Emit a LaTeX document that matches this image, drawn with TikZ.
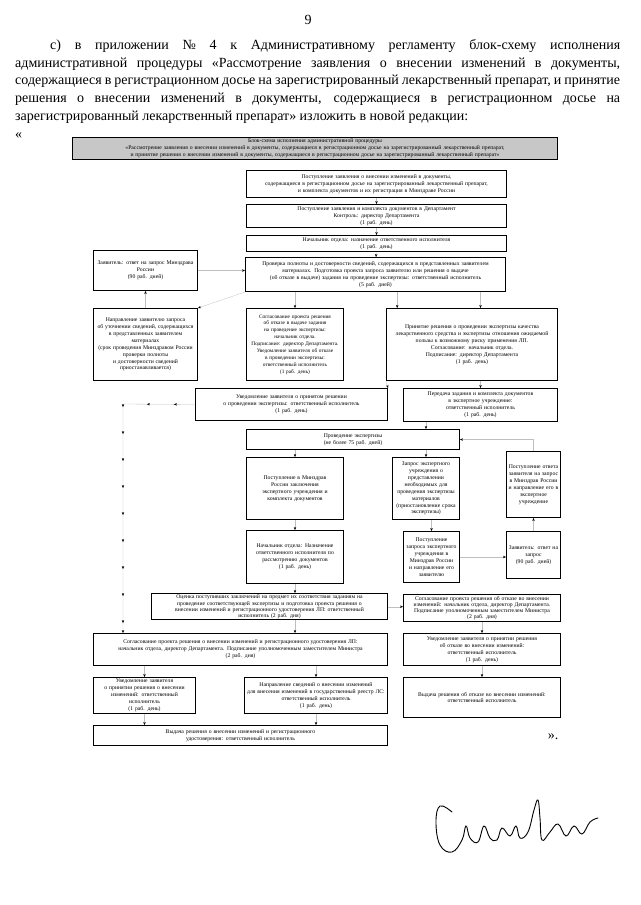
\documentclass[tikz,border=0pt]{standalone}
\usepackage{fontspec}
\setmainfont{Liberation Serif}
\usetikzlibrary{arrows.meta, decorations.markings}

\begin{document}
\begin{tikzpicture}[
    x=1pt, y=-1pt,
    box/.style={draw, line width=1pt, anchor=north west, align=center,
      inner sep=1.5pt, font=\fontsize{5.7}{6.9}\selectfont},
    tight/.style={font=\fontsize{5.7}{6.1}\selectfont},
    small/.style={font=\fontsize{5.3}{6.9}\selectfont},
    arr/.style={draw=black!25, line width=0.3pt,
      -{Stealth[length=3pt, width=2.4pt, color=black]}},
    marks/.style={draw=black!25, line width=0.3pt, postaction={decorate},
      decoration={markings, mark=between positions 0.07 and 0.97 step 27pt
        with {\arrow{Stealth[length=3pt, width=2.4pt, color=black]}}}},
    body/.style={font=\fontsize{14}{17.8}\selectfont}
  ]
  \useasboundingbox (0,0) rectangle (640,905);

  % page head and text
  \node[body] (pnum) at (308,20) {9};
  \node[body, anchor=north west, text width=605pt, align=justify, inner sep=0pt] (txt) at (15,39)
    {\hspace*{35pt}с) в приложении № 4 к Административному регламенту блок-схему исполнения\linebreak
     административной процедуры «Рассмотрение заявления о внесении изменений в документы,\linebreak
     содержащиеся в регистрационном досье на зарегистрированный лекарственный препарат, и принятие\linebreak
     решения о внесении изменений в документы, содержащиеся в регистрационном досье на\linebreak
     зарегистрированный лекарственный препарат» изложить в новой редакции:\\
     «};

  \node[box, fill=black!22, minimum width=485, minimum height=22, text width=481] (head) at (72,137)
    {Блок-схема исполнения административной процедуры\\
     «Рассмотрение заявления о внесении изменений в документы, содержащиеся в регистрационном досье на зарегистрированный лекарственный препарат,\\
     и принятие решения о внесении изменений в документы, содержащиеся в регистрационном досье на зарегистрированный лекарственный препарат»};

  % main column
  \node[box, minimum width=260, minimum height=27, text width=256] (post) at (246,170)
    {Поступление заявления о внесении изменений в документы,\\
     содержащиеся в регистрационном досье на зарегистрированный лекарственный препарат,\\
     и комплекта документов и их регистрация в Минздраве России};
  \node[box, minimum width=260, minimum height=23, text width=256] (dep) at (246,204)
    {Поступление заявления и комплекта документов в Департамент\\
     Контроль: директор Департамента\\
     (1 раб. день)};
  \node[box, minimum width=260, minimum height=16, text width=256] (nach) at (246,235)
    {Начальник отдела: назначение ответственного исполнителя\\
     (1 раб. день)};
  \node[box, minimum width=260, minimum height=34, text width=256] (prov) at (245,257)
    {Проверка полноты и достоверности сведений, содержащихся в представленных заявителем\\
     материалах. Подготовка проекта запроса заявителю или решения о выдаче\\
     (об отказе в выдаче) задания на проведение экспертизы: ответственный исполнитель\\
     (5 раб. дней)};

  % request to the applicant
  \node[box, minimum width=104, minimum height=40, text width=100] (zayav1) at (93,250)
    {Заявитель: ответ на запрос Минздрава\\ России\\ (90 раб. дней)};
  \node[box, minimum width=104, minimum height=72, text width=100] (napr) at (93,308)
    {Направление заявителю запроса\\ об уточнении сведений, содержащихся\\
     в представленных заявителем\\ материалах\\ (срок проведения Минздравом России\\
     проверки полноты\\ и достоверности сведений\\ приостанавливается)};
  \node[box, small, minimum width=97, minimum height=72, text width=94] (otkaz) at (246,308)
    {Согласование проекта решения\\ об отказе в выдаче задания\\ на проведение экспертизы:\\
     начальник отдела.\\ Подписание: директор Департамента.\\ Уведомление заявителя об отказе\\
     в проведении экспертизы:\\ ответственный исполнитель\\ (1 раб. день)};
  \node[box, minimum width=171, minimum height=72, text width=167] (prin) at (386,308)
    {Принятие решения о проведении экспертизы качества\\
     лекарственного средства и экспертизы отношения ожидаемой\\
     пользы к возможному риску применения ЛП.\\ Согласование: начальник отдела.\\
     Подписание: директор Департамента\\ (1 раб. день)};

  % expertise
  \node[box, minimum width=192, minimum height=32, text width=188] (uved) at (195,388)
    {Уведомление заявителя о принятом решении\\
     о проведении экспертизы: ответственный исполнитель\\ (1 раб. день)};
  \node[box, minimum width=154, minimum height=33, text width=150] (pered) at (403,388)
    {Передача задания и комплекта документов\\ в экспертное учреждение:\\
     ответственный исполнитель\\ (1 раб. день)};
  \node[box, minimum width=213, minimum height=20, text width=209] (ekspert) at (246,429)
    {Проведение экспертизы\\ (не более 75 раб. дней)};
  \node[box, minimum width=97, minimum height=62, text width=93] (zakl) at (246,457)
    {Поступление в Минздрав\\ России заключения\\ экспертного учреждения и\\ комплекта документов};
  \node[box, minimum width=67, minimum height=62, text width=63] (zapros) at (392,457)
    {Запрос экспертного\\ учреждения о\\ представлении\\ необходимых для\\ проведения экспертизы\\
     материалов\\ (приостановление срока\\ экспертизы)};
  \node[box, minimum width=54, minimum height=66, text width=50] (otvet) at (506,451)
    {Поступление ответа\\ заявителя на запрос\\ в Минздрав России\\ и направление его в\\
     экспертное\\ учреждение};
  \node[box, minimum width=97, minimum height=53, text width=93] (naznach) at (246,530)
    {Начальник отдела: Назначение\\ ответственного исполнителя по\\ рассмотрению документов\\
     (1 раб. день)};
  \node[box, minimum width=56, minimum height=51, text width=52] (postzapr) at (403,531)
    {Поступление\\ запроса экспертного\\ учреждения в\\ Минздрав России\\ и направление его\\ заявителю};
  \node[box, minimum width=54, minimum height=47, text width=50] (zayav2) at (506,531)
    {Заявитель: ответ на\\ запрос\\ (90 раб. дней)};

  % decision
  \node[box, tight, minimum width=236, minimum height=26, text width=232] (ocenka) at (151,593)
    {Оценка поступивших заключений на предмет их соответствия заданиям на\\
     проведение соответствующей экспертизы и подготовка проекта решения о\\
     внесении изменений и регистрационного удостоверения ЛП: ответственный\\
     исполнитель (2 раб. дня)};
  \node[box, tight, minimum width=157, minimum height=27, text width=153] (soglotk) at (403,594)
    {Согласование проекта решения об отказе во внесении\\
     изменений: начальник отдела, директор Департамента.\\
     Подписание уполномоченным заместителем Министра\\ (2 раб. дня)};
  \node[box, minimum width=294, minimum height=32, text width=290] (soglvn) at (93,633)
    {Согласование проекта решения о внесении изменений и регистрационного удостоверения ЛП:\\
     начальник отдела, директор Департамента. Подписание уполномоченным заместителем Министра\\
     (2 раб. дня)};
  \node[box, minimum width=157, minimum height=32, text width=153] (uvedotk) at (403,633)
    {Уведомление заявителя о принятии решения\\ об отказе во внесении изменений:\\
     ответственный исполнитель\\ (1 раб. день)};
  \node[box, minimum width=102, minimum height=36, text width=98] (uvedvn) at (93,677)
    {Уведомление заявителя\\ о принятии решения о внесении\\ изменений: ответственный\\
     исполнитель\\ (1 раб. день)};
  \node[box, minimum width=143, minimum height=36, text width=139] (naprsv) at (244,677)
    {Направление сведений о внесении изменений\\
     для внесения изменений в государственный реестр ЛС:\\ ответственный исполнитель\\ (1 раб. день)};
  \node[box, minimum width=157, minimum height=40, text width=153] (vydotk) at (403,677)
    {Выдача решения об отказе во внесении изменений:\\ ответственный исполнитель};
  \node[box, minimum width=294, minimum height=20, text width=290] (vydvn) at (93,725)
    {Выдача решения о внесении изменений и регистрационного\\
     удостоверения: ответственный исполнитель};

  \node[body] (qend) at (553,737) {».};

  % connectors
  \draw[arr] (post) -- (dep);
  \draw[arr] (dep) -- (nach);
  \draw[arr] (nach) -- (prov);
  \draw[arr] (zayav1.east) -- (zayav1.east -| prov.west);
  \draw[arr] (prov.south west) -- (napr.north east);
  \draw[arr] (napr.north) -- (zayav1.south);
  \draw[arr] (prov.south -| otkaz.north) -- (otkaz.north);
  \draw[arr] (prov.south -| prin.154) -- (prin.154);
  \draw[arr] (prov.south -| pered.north) -- (pered.north |- prin.north);
  \draw[arr] (prin.south west) -- (uved.north east);
  \draw[arr] (prin.south -| pered.north) -- (pered.north);
  \draw[arr] (pered.south -| zapros.north) -- (zapros.north |- ekspert.north);
  \draw[arr] (ekspert.south -| zakl.north) -- (zakl.north);
  \draw[arr] (ekspert.south -| zapros.north) -- (zapros.north);
  \draw[arr] (otvet.north) |- (ekspert.east);
  \draw[arr] (zapros.south -| postzapr.north) -- (postzapr.north);
  \draw[arr] (postzapr.east) -- (postzapr.east -| zayav2.west);
  \draw[arr] (zayav2.north) -- (otvet.south);
  \draw[arr] (zakl) -- (naznach);
  \draw[arr] (naznach.south) -- (naznach.south |- ocenka.north);
  \draw[arr] (naznach.south |- ocenka.south) -- (naznach.south |- soglvn.north);
  \draw[arr] (ocenka.east) -- (ocenka.east -| soglotk.west);
  \draw[arr] (soglotk) -- (uvedotk);
  \draw[arr] (uvedotk) -- (vydotk);
  \draw[arr] (soglvn.south -| uvedvn.north) -- (uvedvn.north);
  \draw[arr] (soglvn.south -| naprsv.north) -- (naprsv.north);
  \draw[arr] (uvedvn.south) -- (uvedvn.south |- vydvn.north);
  \draw[arr] (naprsv.south) -- (naprsv.south |- vydvn.north);
  \coordinate (lft) at (123,404);
  \draw[marks, -{Stealth[length=3pt, width=2.4pt, color=black]}]
    (uved.west) -- (lft) -- (lft |- soglvn.north);

  % signature
  \draw[line width=0.9pt, line cap=round] plot[smooth, tension=0.7] coordinates
    {(452,812) (440,806) (436,822) (440,845) (452,852) (462,840) (466,826) (470,838)
     (478,842) (484,826) (490,838) (497,840) (502,828) (510,836) (516,826) (520,838)
     (528,832) (534,810) (538,800) (540,818) (542,840) (550,832) (558,824) (566,836)
     (574,826) (582,834) (590,822) (598,818)};
\end{tikzpicture}
\end{document}
